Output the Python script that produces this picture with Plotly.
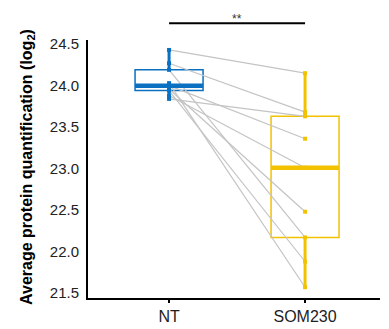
import numpy as np
import plotly.graph_objects as go

categories = ["NT", "SOM230"]
nt_values = [24.43, 24.27, 23.84, 24.00, 23.88, 24.19, 23.96, 24.03, 23.94]
som_values = [24.15, 23.68, 23.63, 23.36, 23.01, 22.17, 22.48, 21.57, 21.88]
y_ticks = [21.5, 22.0, 22.5, 23.0, 23.5, 24.0, 24.5]
colors = ["#0a70c2", "#f2c200"]
sig_label = "**"

fig = go.Figure()

# paired lines
for a, b in zip(nt_values, som_values):
    fig.add_trace(go.Scatter(x=[0, 1], y=[a, b], mode="lines",
                             line=dict(color="#c4c4c4", width=1.2),
                             showlegend=False, hoverinfo="skip"))

for i, (vals, col) in enumerate(zip([nt_values, som_values], colors)):
    v = np.array(vals)
    q1, med, q3 = np.percentile(v, [25, 50, 75])
    fig.add_trace(go.Box(x=[i] * len(v), y=v, boxpoints=False,
                         quartilemethod="inclusive",
                         line=dict(color=col, width=1.5),
                         fillcolor="rgba(0,0,0,0)", width=0.5,
                         whiskerwidth=0, showlegend=False))
    # thick whiskers
    fig.add_trace(go.Scatter(x=[i, i, None, i, i], y=[v.min(), q1, None, q3, v.max()],
                             mode="lines", line=dict(color=col, width=3),
                             showlegend=False, hoverinfo="skip"))
    # thick median
    fig.add_trace(go.Scatter(x=[i - 0.25, i + 0.25], y=[med, med], mode="lines",
                             line=dict(color=col, width=4.5),
                             showlegend=False, hoverinfo="skip"))
    fig.add_trace(go.Scatter(x=[i] * len(v), y=v, mode="markers",
                             marker=dict(color=col, size=4, symbol="square"),
                             showlegend=False))

fig.add_shape(type="line", xref="x", yref="paper", x0=0, x1=1, y0=1.065, y1=1.065,
              line=dict(color="black", width=2))
fig.add_annotation(x=0.5, xref="x", y=1.115, yref="paper", text=sig_label,
                   showarrow=False, font=dict(size=12, color="#333333", family="Liberation Sans"))

fig.add_annotation(x=0, xref="paper", xshift=-60, y=0.508, yref="paper",
                   text="<b>Average protein quantification (log<sub>2</sub>)</b>",
                   textangle=-90, showarrow=False, xanchor="center", yanchor="middle",
                   font=dict(size=16, color="black", family="Liberation Sans"))

fig.update_layout(
    width=389, height=329,
    margin=dict(l=80, r=17, t=32, b=35),
    plot_bgcolor="white", paper_bgcolor="white",
    font=dict(family="Liberation Sans", color="#222222"),
    xaxis=dict(range=[-0.596, 1.551], tickvals=[0, 1], ticktext=categories,
               showgrid=False, zeroline=False, showline=True, linecolor="black",
               linewidth=2, ticks="outside", ticklen=3, tickwidth=1.5, tickcolor="black",
               tickfont=dict(size=16, color="#222222")),
    yaxis=dict(range=[21.44, 24.55], tickvals=y_ticks,
               ticktext=[f"{t:.1f}" for t in y_ticks],
               showgrid=False, zeroline=False, showline=True, linecolor="black",
               linewidth=2, ticks="", tickfont=dict(size=15, color="#222222"),
               ticklabelstandoff=4),
)

fig.write_html("out.html")
